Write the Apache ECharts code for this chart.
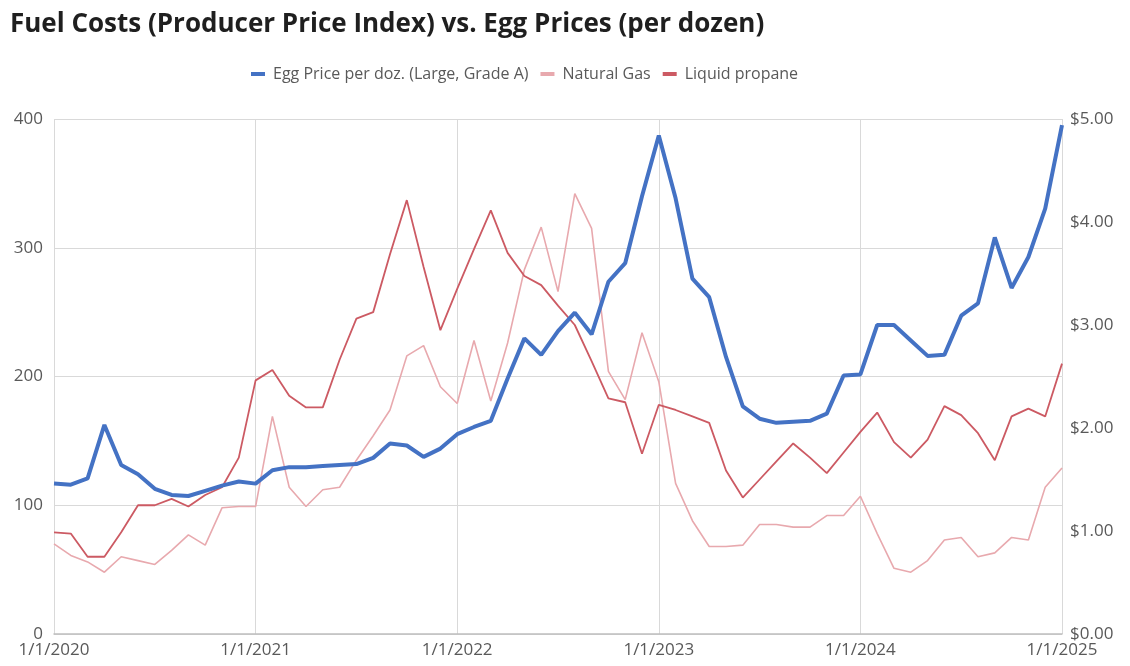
<!DOCTYPE html>
<html>
<head>
<meta charset="utf-8">
<title>Fuel Costs vs. Egg Prices</title>
<script src="https://cdn.jsdelivr.net/npm/echarts@6/dist/echarts.min.js"></script>
<style>
  html, body { margin: 0; padding: 0; background: #ffffff; }
  #chart { width: 1130px; height: 666px; }
</style>
</head>
<body>
<div id="chart"></div>
<script>
// Monthly observations, Jan 2020 through Jan 2025
const months = [];
for (let y = 2020; y <= 2025; y++) {
  for (let m = 1; m <= 12; m++) {
    if (y === 2025 && m > 1) break;
    months.push(m + '/1/' + y);
  }
}

// Egg price per dozen, Large Grade A (USD)
const eggPrice = [
  1.46, 1.45, 1.51, 2.03, 1.64, 1.55, 1.41, 1.35, 1.34, 1.39, 1.44, 1.48,
  1.46, 1.59, 1.62, 1.62, 1.63, 1.64, 1.65, 1.71, 1.85, 1.83, 1.72, 1.80,
  1.94, 2.01, 2.07, 2.48, 2.87, 2.71, 2.94, 3.12, 2.91, 3.42, 3.60, 4.25,
  4.84, 4.23, 3.45, 3.27, 2.69, 2.21, 2.09, 2.05, 2.06, 2.07, 2.14, 2.51,
  2.52, 3.00, 3.00, 2.85, 2.70, 2.71, 3.09, 3.21, 3.85, 3.36, 3.66, 4.13,
  4.94
];

// Producer price index, natural gas
const naturalGas = [
  70, 61, 56, 48, 60, 57, 54, 65, 77, 69, 98, 99,
  99, 169, 114, 99, 112, 114, 135, 154, 174, 216, 224, 192,
  179, 228, 181, 226, 283, 316, 266, 342, 315, 204, 182, 234,
  196, 117, 88, 68, 68, 69, 85, 85, 83, 83, 92, 92,
  107, 78, 51, 48, 57, 73, 75, 60, 63, 75, 73, 114,
  129
];

// Producer price index, liquid propane
const propane = [
  79, 78, 60, 60, 79, 100, 100, 105, 99, 108, 114, 137,
  197, 205, 185, 176, 176, 213, 245, 250, 295, 337, 285, 236,
  268, 299, 329, 296, 278, 271, 255, 240, 212, 183, 180, 140,
  178, 174, 169, 164, 127, 106, 120, 134, 148, 137, 125, 141,
  157, 172, 149, 137, 151, 177, 170, 156, 135, 169, 175, 169,
  210
];

const leftTicks = { min: 0, max: 400, interval: 100 };
const rightTicks = { min: 0, max: 5, interval: 1 };

const textColor = '#595959';
const gridColor = '#d9d9d9';
const font = '"Open Sans", Lato, sans-serif';

const chart = echarts.init(document.getElementById('chart'), null, { renderer: 'canvas' });

const yearStart = (i) => i % 12 === 0;

chart.setOption({
  backgroundColor: '#ffffff',
  animation: false,
  textStyle: { fontFamily: font },
  title: {
    text: 'Fuel Costs (Producer Price Index) vs. Egg Prices (per dozen)',
    left: 5,
    top: 7,
    textStyle: { fontFamily: font, fontSize: 26, fontWeight: 'bold', color: '#1f1f1f' }
  },
  legend: {
    top: 61,
    left: 246,
    itemWidth: 14,
    itemHeight: 4,
    itemGap: 12,
    icon: 'rect',
    textStyle: { color: textColor, fontSize: 16, fontFamily: font, padding: [0, 0, 0, 3] },
    data: ['Egg Price per doz. (Large, Grade A)', 'Natural Gas', 'Liquid propane']
  },
  grid: { left: 54, right: 68, top: 119, bottom: 32, containLabel: false },
  xAxis: {
    type: 'category',
    data: months,
    boundaryGap: false,
    axisLine: { show: true, lineStyle: { color: '#bfbfbf', width: 1.5 } },
    axisTick: { show: false },
    axisLabel: {
      interval: (i) => yearStart(i),
      color: textColor,
      fontSize: 17,
      margin: 8,
      fontFamily: font
    },
    splitLine: {
      show: true,
      interval: (i) => yearStart(i),
      lineStyle: { color: gridColor, width: 1 }
    }
  },
  yAxis: [
    {
      type: 'value',
      min: leftTicks.min,
      max: leftTicks.max,
      interval: leftTicks.interval,
      axisLine: { show: false },
      axisTick: { show: false },
      axisLabel: { color: textColor, fontSize: 17, margin: 11, fontFamily: font },
      splitLine: { show: true, lineStyle: { color: gridColor, width: 1 } }
    },
    {
      type: 'value',
      min: rightTicks.min,
      max: rightTicks.max,
      interval: rightTicks.interval,
      position: 'right',
      axisLine: { show: false },
      axisTick: { show: false },
      axisLabel: {
        color: textColor,
        fontSize: 17,
        margin: 8,
        fontFamily: font,
        formatter: (v) => '$' + v.toFixed(2)
      },
      splitLine: { show: false }
    }
  ],
  series: [
    {
      name: 'Egg Price per doz. (Large, Grade A)',
      type: 'line',
      yAxisIndex: 1,
      data: eggPrice,
      showSymbol: false,
      z: 5,
      itemStyle: { color: '#4472c4' },
      lineStyle: { color: '#4472c4', width: 4 }
    },
    {
      name: 'Natural Gas',
      type: 'line',
      yAxisIndex: 0,
      data: naturalGas,
      showSymbol: false,
      z: 3,
      itemStyle: { color: '#e8a9ae' },
      lineStyle: { color: '#e8a9ae', width: 1.6 }
    },
    {
      name: 'Liquid propane',
      type: 'line',
      yAxisIndex: 0,
      data: propane,
      showSymbol: false,
      z: 4,
      itemStyle: { color: '#cc5a63' },
      lineStyle: { color: '#cc5a63', width: 1.8 }
    }
  ]
});
</script>
</body>
</html>
